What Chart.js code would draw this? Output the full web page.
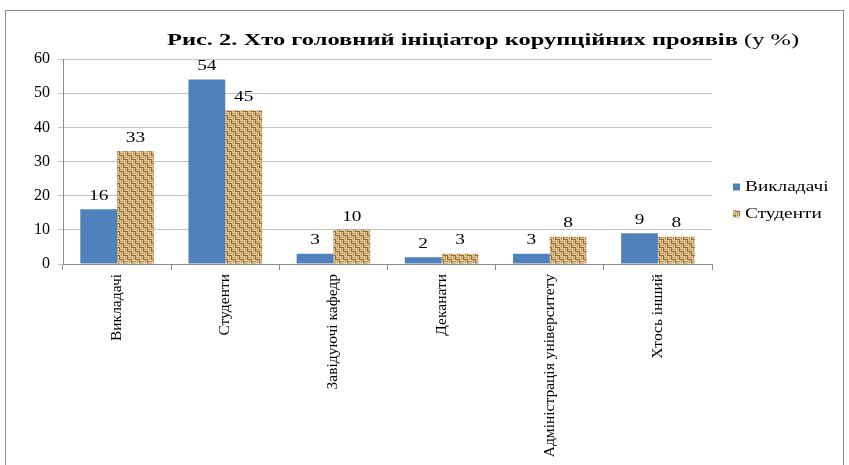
<!DOCTYPE html>
<html>
<head>
<meta charset="utf-8">
<script src="https://cdn.jsdelivr.net/npm/chart.js@4.4.1/dist/chart.umd.min.js"></script>
<style>
  html, body { margin: 0; padding: 0; background: #fff; }
  #wrap { width: 849px; height: 465px; position: relative; }
</style>
</head>
<body>
<div id="wrap"><canvas id="chart" width="849" height="465"></canvas></div>
<script>
// chart data
const categories = ['Викладачі', 'Студенти', 'Завідуючі кафедр', 'Деканати', 'Адміністрація університету', 'Хтось інший'];
const teachers = [16, 54, 3, 2, 3, 9];
const students = [33, 45, 10, 3, 8, 8];
const seriesNames = ['Викладачі', 'Студенти'];
const yTicks = [0, 10, 20, 30, 40, 50, 60];

const SERIF = '"Liberation Serif", "Times New Roman", serif';
const STRETCH = 1.38; // the reference text is drawn horizontally wide

// basket-weave texture for the second series
function makeBurlap() {
    const c = document.createElement('canvas');
    c.width = 8; c.height = 8;
    const g = c.getContext('2d');
    const light = '#e6c992', mid = '#bb955d', dark = '#8d6839';
    g.fillStyle = mid;
    g.fillRect(0, 0, 8, 8);
    // horizontal threads in top-left and bottom-right blocks
    g.fillStyle = light;
    g.fillRect(0, 0, 4, 1); g.fillRect(0, 2, 4, 1);
    g.fillRect(4, 4, 4, 1); g.fillRect(4, 6, 4, 1);
    g.fillStyle = dark;
    g.fillRect(0, 3, 4, 1); g.fillRect(4, 7, 4, 1);
    // vertical threads in the other blocks
    g.fillStyle = light;
    g.fillRect(4, 0, 1, 4); g.fillRect(6, 0, 1, 4);
    g.fillRect(0, 4, 1, 4); g.fillRect(2, 4, 1, 4);
    g.fillStyle = dark;
    g.fillRect(7, 0, 1, 4); g.fillRect(3, 4, 1, 4);
    return g.createPattern(c, 'repeat');
}

function wideText(c, text, x, y, align, sx) {
    const k = sx || STRETCH;
    const w = c.measureText(text).width * k;
    let left = x;
    if (align === 'center') left = x - w / 2;
    if (align === 'right') left = x - w;
    c.save();
    c.translate(left, y);
    c.scale(k, 1);
    c.textAlign = 'left';
    c.fillText(text, 0, 0);
    c.restore();
    return w;
}

const ctx = document.getElementById('chart').getContext('2d');
const burlap = makeBurlap();

const frameAndText = {
    id: 'frameAndText',
    beforeDraw(chart) {
        const c = chart.ctx;
        c.save();
        c.fillStyle = '#fff';
        c.fillRect(0, 0, chart.width, chart.height);
        c.strokeStyle = '#8c8c8c';
        c.lineWidth = 1;
        c.strokeRect(5.5, 10.5, 838, 470);
        c.restore();
    },
    afterDatasetsDraw(chart) {
        const c = chart.ctx;
        c.save();
        c.fillStyle = '#000';
        c.font = '14px ' + SERIF;
        c.textBaseline = 'bottom';
        chart.data.datasets.forEach((ds, i) => {
            chart.getDatasetMeta(i).data.forEach((bar, j) => {
                wideText(c, String(ds.data[j]), bar.x, bar.y - 6, 'center');
            });
        });
        c.restore();
    },
    afterDraw(chart) {
        const c = chart.ctx;
        c.save();
        // title: bold part + normal "(у %)"
        const boldPart = 'Рис. 2. Хто головний ініціатор корупційних проявів';
        const normPart = ' (у %)';
        const ts = 1.44;
        c.textBaseline = 'alphabetic';
        c.fillStyle = '#000';
        c.font = 'bold 17px ' + SERIF;
        const w1 = c.measureText(boldPart).width * ts;
        c.font = '17px ' + SERIF;
        const w2 = c.measureText(normPart).width * ts;
        const x = 483 - (w1 + w2) / 2;
        c.font = 'bold 17px ' + SERIF;
        wideText(c, boldPart, x, 45, 'left', ts);
        c.font = '17px ' + SERIF;
        wideText(c, normPart, x + w1, 45, 'left', ts);

        // legend
        const fills = [chart.data.datasets[0].backgroundColor, chart.data.datasets[1].backgroundColor];
        c.font = '14px ' + SERIF;
        c.textBaseline = 'middle';
        seriesNames.forEach((name, i) => {
            const y = 187 + i * 27;
            c.fillStyle = fills[i];
            c.fillRect(733, y - 3.5, 7, 7);
            c.fillStyle = '#000';
            wideText(c, name, 745, y, 'left');
        });
        c.restore();
    }
};

new Chart(ctx, {
    type: 'bar',
    data: {
        labels: categories,
        datasets: [{
            label: seriesNames[0],
            data: teachers,
            backgroundColor: '#4f81bd',
            borderWidth: 0,
            barPercentage: 1,
            categoryPercentage: 0.68
        }, {
            label: seriesNames[1],
            data: students,
            backgroundColor: burlap,
            borderWidth: 0,
            barPercentage: 1,
            categoryPercentage: 0.68
        }]
    },
    options: {
        responsive: false,
        animation: false,
        devicePixelRatio: 1,
        layout: { padding: { top: 59, right: 137, left: 0, bottom: 0 } },
        plugins: {
            legend: { display: false },
            title: { display: false },
            tooltip: { enabled: false }
        },
        scales: {
            x: {
                grid: {
                    display: true,
                    drawOnChartArea: false,
                    drawTicks: true,
                    tickLength: 6,
                    color: '#8c8c8c'
                },
                border: { display: true, color: '#8c8c8c' },
                ticks: {
                    color: '#000',
                    font: { family: SERIF, size: 15.5 },
                    minRotation: 90,
                    maxRotation: 90,
                    autoSkip: false,
                    padding: 4
                },
                afterFit(scale) { scale.height = 201; }
            },
            y: {
                min: 0,
                max: 60,
                afterBuildTicks(scale) { scale.ticks = yTicks.map(v => ({ value: v })); },
                grid: {
                    color: '#c4c4c4',
                    drawTicks: true,
                    tickLength: 5
                },
                border: { display: true, color: '#8c8c8c' },
                ticks: {
                    color: '#000',
                    font: { family: SERIF, size: 16 },
                    padding: 8
                },
                afterFit(scale) { scale.width = 63; }
            }
        }
    },
    plugins: [frameAndText]
});
</script>
</body>
</html>
